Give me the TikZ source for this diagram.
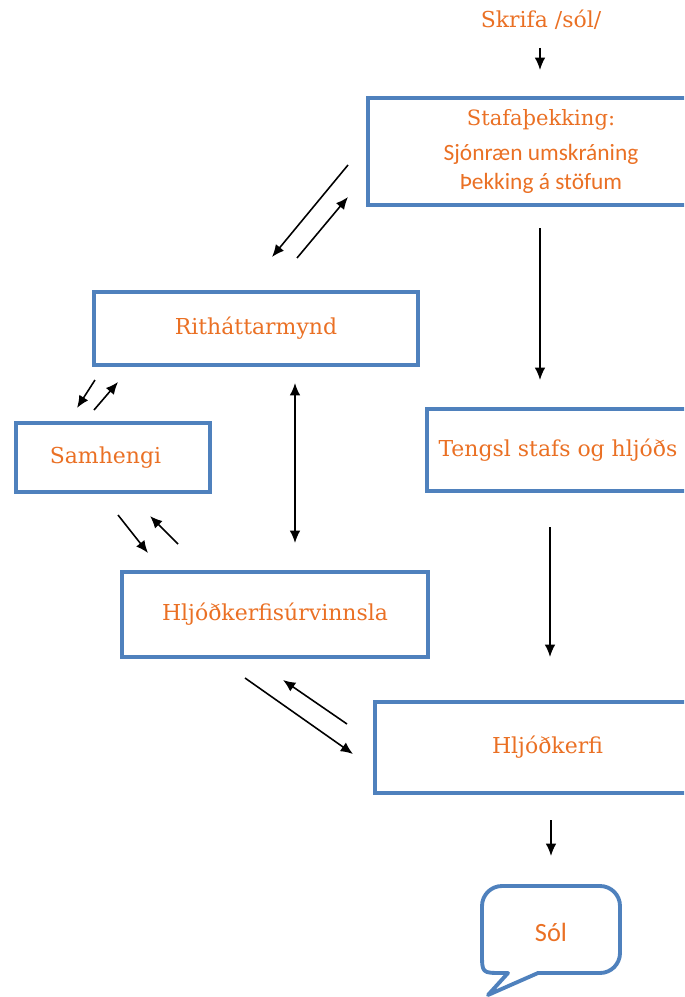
\documentclass[tikz,border=0pt]{standalone}
\usepackage{fontspec}
\setmainfont{DejaVu Serif}
\newfontfamily\calfont{Carlito}
\usetikzlibrary{arrows.meta}
\definecolor{boxblue}{RGB}{79,129,189}
\definecolor{txtorange}{RGB}{234,112,36}

\begin{document}
\begin{tikzpicture}[x=0.02cm,y=-0.02cm,>={Latex[length=7pt,width=6pt]}]

      \useasboundingbox (0,0) rectangle (684,997);
      \clip (0,0) rectangle (684,997);

      \node[text=txtorange, font=\fontsize{12.5}{15}\selectfont] (0) at (541,20) {Skrifa /sól/};

      \begin{scope}[every node/.style={draw=boxblue, line width=2.2pt, text=txtorange, align=center,
          inner sep=0pt, font=\fontsize{12.5}{15}\selectfont}]
        \node[minimum width=6.92cm, minimum height=2.14cm, font=\fontsize{12}{16.5}\selectfont] (1) at (541,151.5)
          {Stafaþekking:\\[3pt]
           {\calfont\fontsize{13.3}{16.5}\selectfont Sjónræn umskráning}\\
           {\calfont\fontsize{13.3}{16.5}\selectfont Þekking á stöfum}};
        \node[minimum width=6.48cm, minimum height=1.46cm] (2) at (256,328.5) {Rithátt\-armynd};
        \node[minimum width=5.24cm, minimum height=1.64cm] (3) at (558,450) {Tengsl stafs og hljóðs};
        \node[minimum width=3.88cm, minimum height=1.38cm] (4) at (113,457.5) {Samhengi\hspace{0.3cm}};
        \node[minimum width=6.12cm, minimum height=1.70cm] (5) at (275,614.5) {Hljóðkerfisúrvinnsla};
        \node[minimum width=6.90cm, minimum height=1.82cm] (6) at (547.5,747.5) {Hljóðkerfi};
      \end{scope}

      % talblaðra
      \draw[boxblue, line width=2.2pt, line join=round]
        (538,973) [rounded corners=0.4cm] -- (620,973) -- (620,886) -- (482,886) [sharp corners]
        -- (482,953) .. controls (482,973) .. (502,973) -- (508,973) -- (488,995) -- cycle;
      \node[text=txtorange, font=\calfont\fontsize{15}{18}\selectfont] (7) at (551,932) {Sól};

      \begin{scope}
        \coordinate (a1) at (540,48);   \coordinate (a2) at (540,70);
        \coordinate (b1) at (348,165);  \coordinate (b2) at (272,257);
        \coordinate (b3) at (297,258);  \coordinate (b4) at (348,197);
        \coordinate (c1) at (540,228);  \coordinate (c2) at (540,380);
        \coordinate (d1) at (95,380);   \coordinate (d2) at (77,408);
        \coordinate (d3) at (94,410);   \coordinate (d4) at (118,382);
        \coordinate (e1) at (295,383);  \coordinate (e2) at (295,543);
        \coordinate (f1) at (118,515);  \coordinate (f2) at (148,553);
        \coordinate (f3) at (178,544);  \coordinate (f4) at (150,516);
        \coordinate (g1) at (550,527);  \coordinate (g2) at (550,657);
        \coordinate (h1) at (245,678);  \coordinate (h2) at (353,754);
        \coordinate (h3) at (347,724);  \coordinate (h4) at (283,680);
        \coordinate (i1) at (551,820);  \coordinate (i2) at (551,856);
      \end{scope}

      \begin{scope}[every edge/.style={draw, line width=0.9pt}]
        \path (a1) edge[->] (a2);
        \path (b1) edge[->] (b2);
        \path (b3) edge[->] (b4);
        \path (c1) edge[->] (c2);
        \path (d1) edge[->] (d2);
        \path (d3) edge[->] (d4);
        \path (e1) edge[<->] (e2);
        \path (f1) edge[->] (f2);
        \path (f3) edge[->] (f4);
        \path (g1) edge[->] (g2);
        \path (h1) edge[->] (h2);
        \path (h3) edge[->] (h4);
        \path (i1) edge[->] (i2);
      \end{scope}

    \end{tikzpicture}
\end{document}
